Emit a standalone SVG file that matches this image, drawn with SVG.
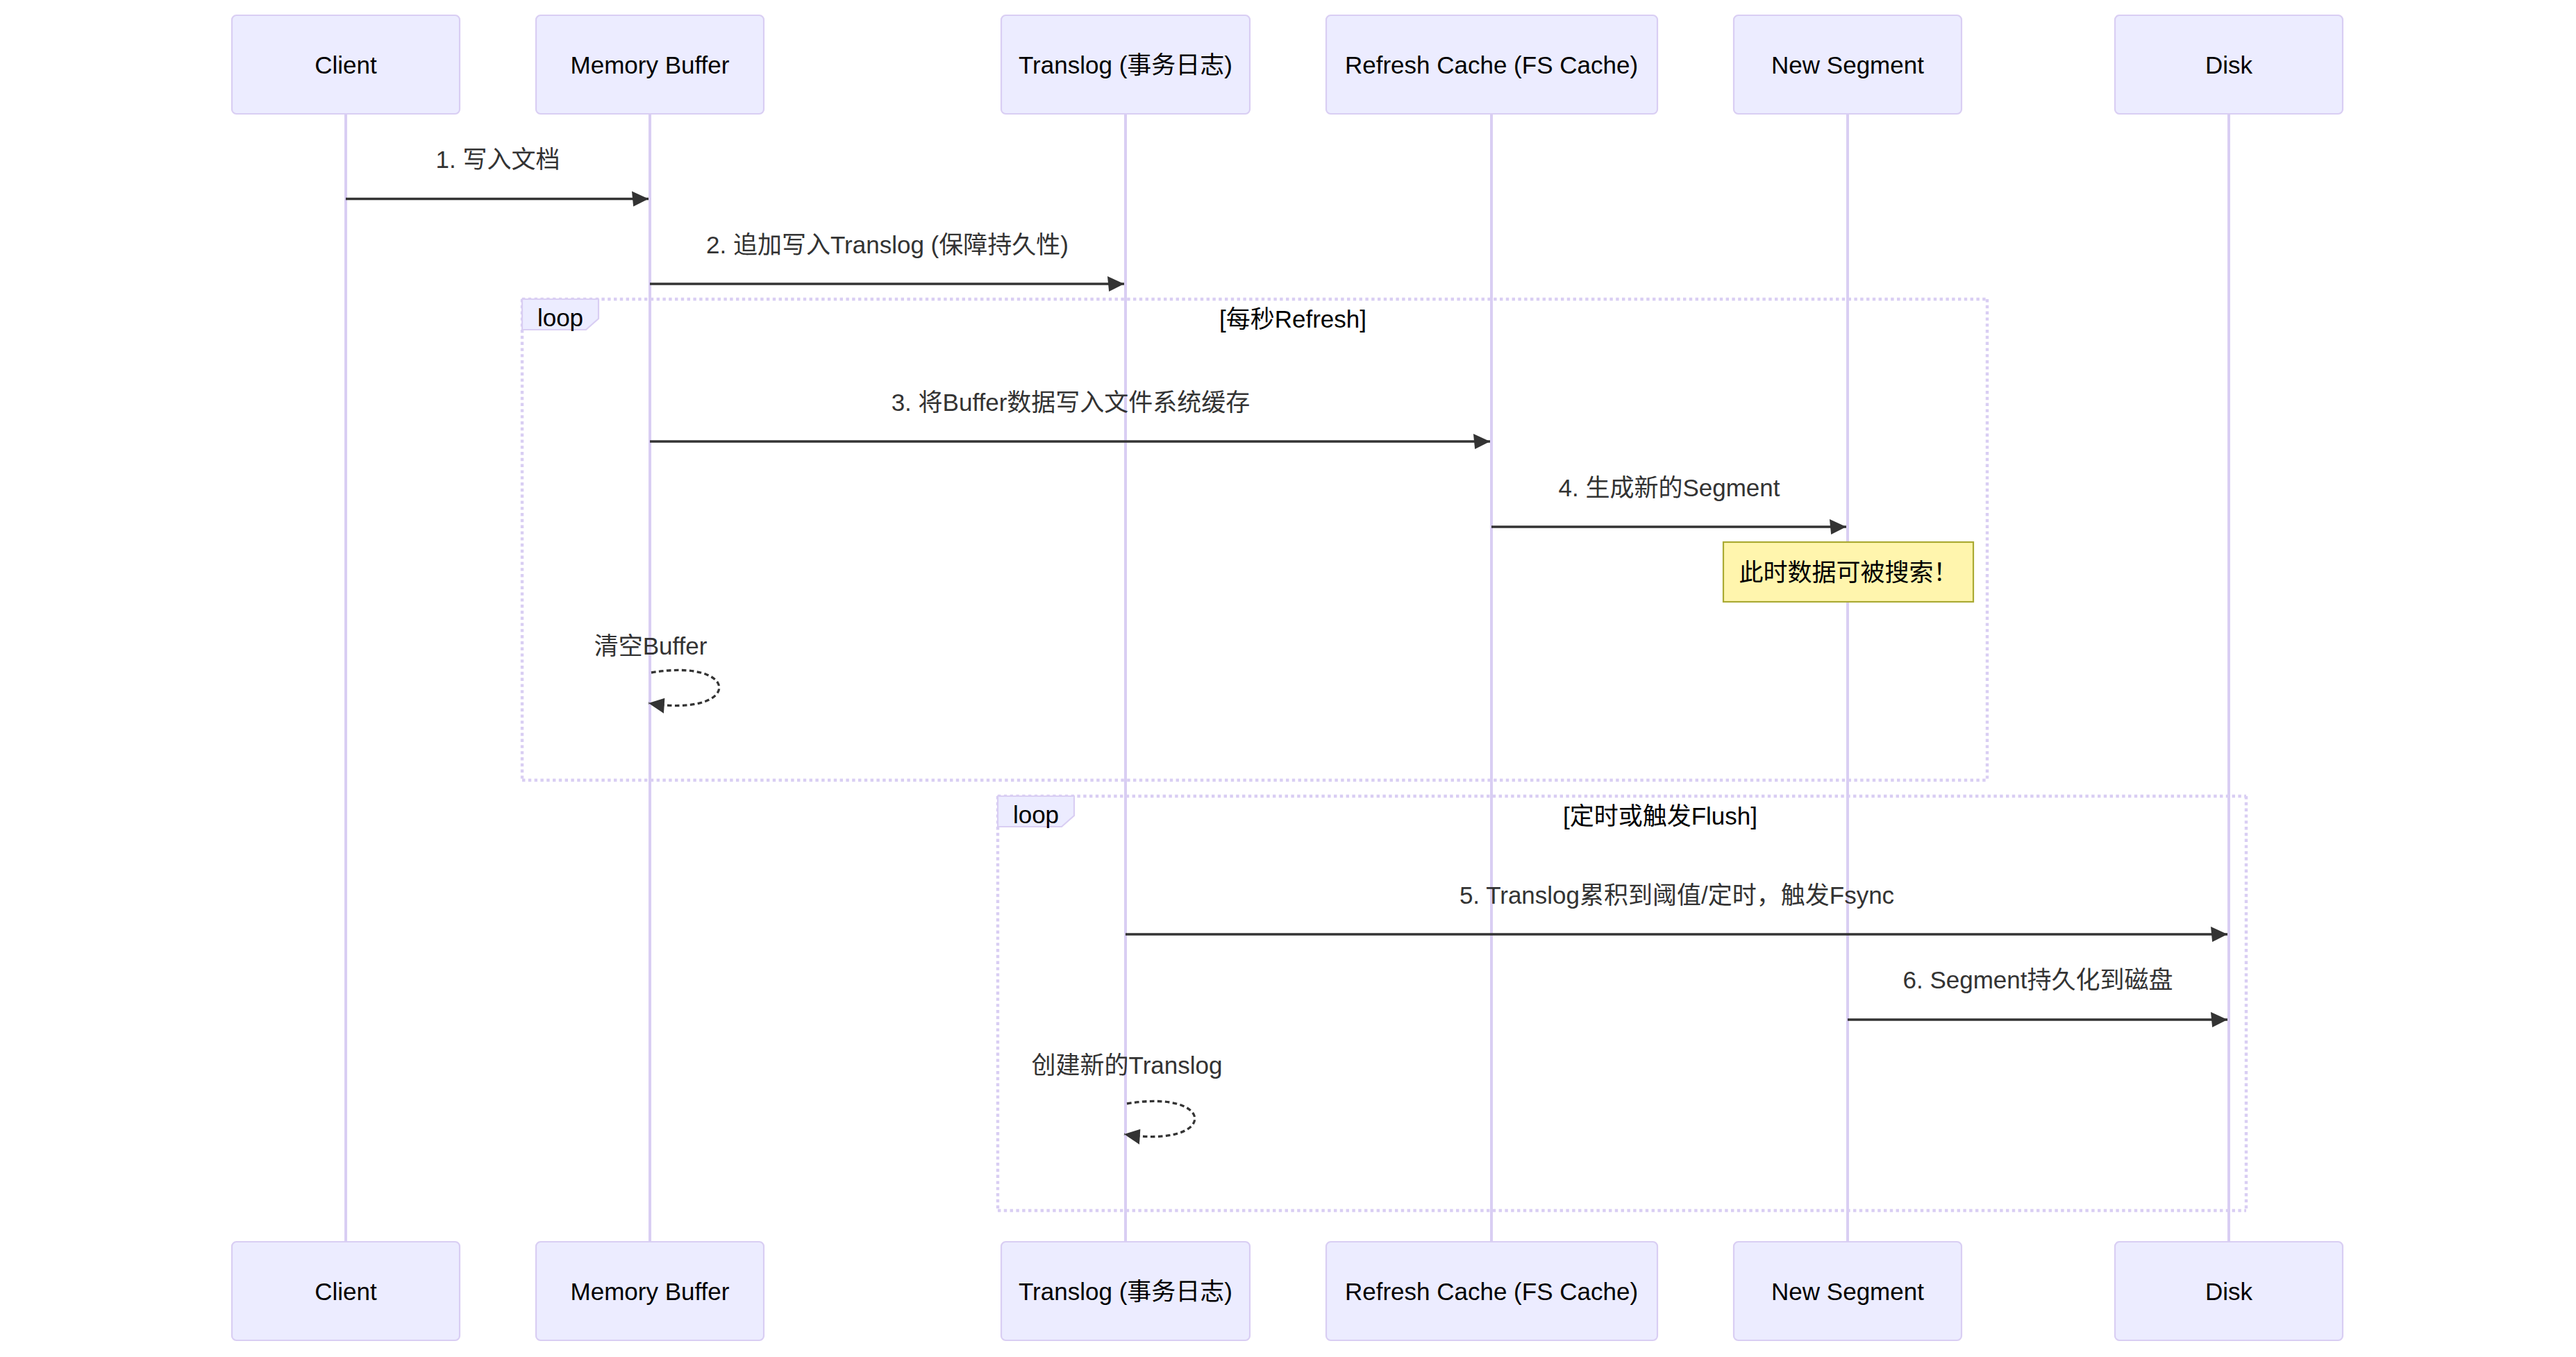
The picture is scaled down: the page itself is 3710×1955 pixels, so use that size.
<svg xmlns="http://www.w3.org/2000/svg" width="3710" height="1955" viewBox="0 0 3710 1955">
  <style>
    text { font-family: "Liberation Sans", "Noto Sans CJK SC", sans-serif; font-size: 35px; text-anchor: middle; dominant-baseline: central; }
    .actor { fill: #ECECFF; stroke: #D9CEF3; stroke-width: 2.2; }
    .actor-text { fill: #000000; }
    .lifeline { stroke: #D9CEF3; stroke-width: 4; fill: none; }
    .msg { stroke: #333333; stroke-width: 3.3; fill: none; }
    .msg-dash { stroke: #333333; stroke-width: 3.3; fill: none; stroke-dasharray: 6.6 4.4; }
    .msg-text { fill: #333333; }
    .loop-line { stroke: #D9CEF3; stroke-width: 4.4; stroke-dasharray: 4.4 4.4; fill: none; }
    .loop-label { fill: #ECECFF; stroke: #D9CEF3; stroke-width: 2.2; }
    .loop-text { fill: #000000; }
    .note { fill: #FFF5AD; stroke: #AAAA33; stroke-width: 2.2; }
    .note-text { fill: #000000; }
  </style>
  <defs>
    <marker id="arrow" viewBox="-1 0 12 10" markerUnits="userSpaceOnUse" markerWidth="26.2" markerHeight="26.2" refX="10" refY="5" orient="auto">
      <path d="M -1 0 L 10 5 L 0 10 z" fill="#333333"/>
    </marker>
  </defs>
  <rect x="0" y="0" width="3710" height="1955" fill="#ffffff"/>

  <g id="lifelines">
    <line class="lifeline" x1="498" y1="164" x2="498" y2="1789"/>
    <line class="lifeline" x1="936" y1="164" x2="936" y2="1789"/>
    <line class="lifeline" x1="1621" y1="164" x2="1621" y2="1789"/>
    <line class="lifeline" x1="2148" y1="164" x2="2148" y2="1789"/>
    <line class="lifeline" x1="2661" y1="164" x2="2661" y2="1789"/>
    <line class="lifeline" x1="3210" y1="164" x2="3210" y2="1789"/>
  </g>

  <g id="actor-client">
    <rect class="actor" x="334" y="22" width="328" height="142" rx="6.5"/>
    <text class="actor-text" x="498" y="93">Client</text>
    <rect class="actor" x="334" y="1789" width="328" height="142" rx="6.5"/>
    <text class="actor-text" x="498" y="1860">Client</text>
  </g>
  <g id="actor-memory-buffer">
    <rect class="actor" x="772" y="22" width="328" height="142" rx="6.5"/>
    <text class="actor-text" x="936" y="93">Memory Buffer</text>
    <rect class="actor" x="772" y="1789" width="328" height="142" rx="6.5"/>
    <text class="actor-text" x="936" y="1860">Memory Buffer</text>
  </g>
  <g id="actor-translog">
    <rect class="actor" x="1442" y="22" width="358" height="142" rx="6.5"/>
    <text class="actor-text" x="1621" y="93">Translog (事务日志)</text>
    <rect class="actor" x="1442" y="1789" width="358" height="142" rx="6.5"/>
    <text class="actor-text" x="1621" y="1860">Translog (事务日志)</text>
  </g>
  <g id="actor-refresh-cache">
    <rect class="actor" x="1910" y="22" width="477" height="142" rx="6.5"/>
    <text class="actor-text" x="2148" y="93">Refresh Cache (FS Cache)</text>
    <rect class="actor" x="1910" y="1789" width="477" height="142" rx="6.5"/>
    <text class="actor-text" x="2148" y="1860">Refresh Cache (FS Cache)</text>
  </g>
  <g id="actor-new-segment">
    <rect class="actor" x="2497" y="22" width="328" height="142" rx="6.5"/>
    <text class="actor-text" x="2661" y="93">New Segment</text>
    <rect class="actor" x="2497" y="1789" width="328" height="142" rx="6.5"/>
    <text class="actor-text" x="2661" y="1860">New Segment</text>
  </g>
  <g id="actor-disk">
    <rect class="actor" x="3046" y="22" width="328" height="142" rx="6.5"/>
    <text class="actor-text" x="3210" y="93">Disk</text>
    <rect class="actor" x="3046" y="1789" width="328" height="142" rx="6.5"/>
    <text class="actor-text" x="3210" y="1860">Disk</text>
  </g>

  <g id="loop-refresh">
    <line class="loop-line" x1="752" y1="431" x2="2862" y2="431"/>
    <line class="loop-line" x1="2862" y1="431" x2="2862" y2="1124"/>
    <line class="loop-line" x1="752" y1="1124" x2="2862" y2="1124"/>
    <line class="loop-line" x1="752" y1="431" x2="752" y2="1124"/>
    <polygon class="loop-label" points="752,431 862,431 862,459 844,475 752,475"/>
    <text class="loop-text" x="807" y="457">loop</text>
    <text class="loop-text" x="1862" y="459">[每秒Refresh]</text>
  </g>
  <g id="loop-flush">
    <line class="loop-line" x1="1437" y1="1147" x2="3235" y2="1147"/>
    <line class="loop-line" x1="3235" y1="1147" x2="3235" y2="1744"/>
    <line class="loop-line" x1="1437" y1="1744" x2="3235" y2="1744"/>
    <line class="loop-line" x1="1437" y1="1147" x2="1437" y2="1744"/>
    <polygon class="loop-label" points="1437,1147 1547,1147 1547,1175 1529,1191 1437,1191"/>
    <text class="loop-text" x="1492" y="1173">loop</text>
    <text class="loop-text" x="2391" y="1175">[定时或触发Flush]</text>
  </g>

  <g id="connectors">
    <text class="msg-text" x="717" y="229">1. 写入文档</text>
    <line class="msg" x1="498" y1="286.5" x2="934" y2="286.5" marker-end="url(#arrow)"/>

    <text class="msg-text" x="1278" y="352">2. 追加写入Translog (保障持久性)</text>
    <line class="msg" x1="936" y1="409" x2="1619" y2="409" marker-end="url(#arrow)"/>

    <text class="msg-text" x="1542" y="579">3. 将Buffer数据写入文件系统缓存</text>
    <line class="msg" x1="936" y1="636" x2="2146" y2="636" marker-end="url(#arrow)"/>

    <text class="msg-text" x="2404" y="702">4. 生成新的Segment</text>
    <line class="msg" x1="2148" y1="759" x2="2659" y2="759" marker-end="url(#arrow)"/>

    <text class="msg-text" x="937" y="930">清空Buffer</text>
    <path class="msg-dash" d="M 938 969 C 1069 947 1069 1035 934 1013" marker-end="url(#arrow)"/>

    <text class="msg-text" x="2415" y="1289">5. Translog累积到阈值/定时，触发Fsync</text>
    <line class="msg" x1="1621" y1="1346" x2="3208" y2="1346" marker-end="url(#arrow)"/>

    <text class="msg-text" x="2935" y="1411">6. Segment持久化到磁盘</text>
    <line class="msg" x1="2661" y1="1469" x2="3208" y2="1469" marker-end="url(#arrow)"/>

    <text class="msg-text" x="1623" y="1534">创建新的Translog</text>
    <path class="msg-dash" d="M 1623 1590 C 1754 1568 1754 1656 1619 1634" marker-end="url(#arrow)"/>
  </g>

  <g id="note-searchable">
    <rect class="note" x="2482" y="781" width="360" height="86"/>
    <text class="note-text" x="2662" y="824">此时数据可被搜索！</text>
  </g>
</svg>
